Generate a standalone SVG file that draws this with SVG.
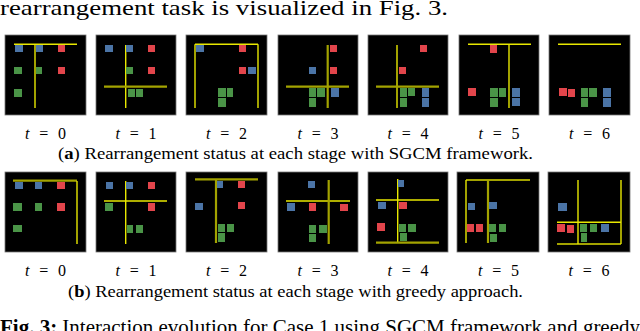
<svg xmlns="http://www.w3.org/2000/svg" width="640" height="331" viewBox="0 0 640 331">
<style>
.p{fill:#000;stroke:#777;stroke-width:0.8}
.y{stroke:#e8e800;stroke-width:1.4;fill:none}
.o{stroke:#a3a300;stroke-width:2.2;fill:none}
.b{fill:#4b74a6}
.r{fill:#e2454b}
.g{fill:#4a9447}
.t{font-family:"Liberation Serif",serif;font-size:16px;fill:#000}
.c{font-family:"Liberation Serif",serif;font-size:17px;fill:#000}
.h{font-family:"Liberation Serif",serif;font-size:22px;fill:#000}
</style>
<rect width="640" height="331" fill="#fff"/>
<text class="h" x="0" y="15" textLength="448" lengthAdjust="spacingAndGlyphs">rearrangement task is visualized in Fig. 3.</text>

<!-- Row a -->
<g id="a0">
<rect class="p" x="5" y="35" width="81" height="80"/>
<line class="y" x1="14" y1="44.3" x2="77" y2="44.3"/><line class="y" x1="35" y1="44.3" x2="35" y2="108"/>
<rect class="b" x="15" y="45" width="8" height="7"/><rect class="b" x="36" y="45" width="7" height="7"/><rect class="r" x="58" y="45" width="7" height="7"/>
<rect class="g" x="14" y="67" width="8" height="7"/><rect class="g" x="36" y="67" width="6" height="7"/><rect class="r" x="58" y="67" width="7" height="7"/>
<rect class="g" x="14" y="89" width="8" height="8"/>
</g>
<g id="a1">
<rect class="p" x="96" y="35" width="80" height="80"/>
<line class="y" x1="125.7" y1="45" x2="125.7" y2="108"/><line class="o" x1="104" y1="86.7" x2="167" y2="86.7"/>
<rect class="b" x="105" y="45" width="8" height="7"/><rect class="b" x="126" y="45" width="7" height="7"/><rect class="r" x="148" y="45" width="7" height="7"/>
<rect class="g" x="126" y="67" width="7" height="7"/><rect class="r" x="148" y="67" width="7" height="7"/>
<rect class="g" x="128" y="89" width="7" height="8"/><rect class="g" x="136" y="89" width="7" height="8"/>
</g>
<g id="a2">
<rect class="p" x="186" y="35" width="81" height="80"/>
<line class="y" x1="195" y1="44.3" x2="258" y2="44.3"/><line class="y" x1="195" y1="44.3" x2="195" y2="108"/><line class="y" x1="258" y1="44.3" x2="258" y2="108"/>
<rect class="b" x="196" y="45" width="8" height="7"/><rect class="r" x="239" y="45" width="7" height="7"/>
<rect class="r" x="239" y="67" width="7" height="7"/><rect class="b" x="248" y="67" width="8" height="7"/>
<rect class="g" x="218" y="88" width="8" height="9"/><rect class="g" x="227" y="88" width="6" height="9"/><rect class="g" x="218" y="98" width="8" height="9"/>
</g>
<g id="a3">
<rect class="p" x="278" y="35" width="80" height="80"/>
<line class="o" x1="327.7" y1="45" x2="327.7" y2="108"/><line class="o" x1="286" y1="86.7" x2="349" y2="86.7"/>
<rect class="r" x="330" y="45" width="7" height="7"/><rect class="b" x="309" y="67" width="7" height="7"/><rect class="r" x="330" y="67" width="7" height="7"/>
<rect class="g" x="309" y="88" width="7" height="9"/><rect class="g" x="317" y="88" width="8" height="9"/><rect class="b" x="331" y="88" width="8" height="9"/>
<rect class="g" x="309" y="98" width="7" height="9"/>
</g>
<g id="a4">
<rect class="p" x="368" y="35" width="80" height="80"/>
<line class="y" x1="397" y1="45" x2="397" y2="108"/><line class="o" x1="376" y1="86.7" x2="439" y2="86.7"/>
<rect class="r" x="420" y="45" width="7" height="7"/><rect class="r" x="399" y="67" width="7" height="7"/>
<rect class="g" x="400" y="88" width="7" height="9"/><rect class="g" x="408" y="88" width="7" height="8"/><rect class="g" x="400" y="98" width="7" height="9"/>
<rect class="b" x="422" y="88" width="7" height="9"/><rect class="b" x="422" y="98" width="7" height="9"/>
</g>
<g id="a5">
<rect class="p" x="459" y="35" width="80" height="80"/>
<line class="y" x1="468" y1="44.3" x2="531" y2="44.3"/><line class="y" x1="509" y1="44.3" x2="509" y2="108"/>
<rect class="r" x="490" y="45" width="7" height="8"/><rect class="r" x="468" y="88" width="8" height="8"/>
<rect class="g" x="490" y="88" width="8" height="9"/><rect class="g" x="499" y="88" width="7" height="9"/><rect class="g" x="490" y="98" width="8" height="9"/>
<rect class="b" x="512" y="88" width="8" height="9"/><rect class="b" x="512" y="98" width="8" height="8"/>
</g>
<g id="a6">
<rect class="p" x="549" y="35" width="81" height="80"/>
<line class="y" x1="558" y1="44.3" x2="621" y2="44.3"/>
<rect class="r" x="559" y="88" width="8" height="8"/><rect class="r" x="568" y="89" width="7" height="8"/>
<rect class="g" x="581" y="88" width="7" height="9"/><rect class="g" x="589" y="88" width="8" height="9"/><rect class="g" x="581" y="98" width="7" height="9"/>
<rect class="b" x="603" y="88" width="8" height="9"/><rect class="b" x="603" y="98" width="8" height="9"/>
</g>

<g id="labels-a">
<text class="t" x="25" y="139" textLength="41" lengthAdjust="spacing"><tspan font-style="italic">t</tspan> = 0</text>
<text class="t" x="115.5" y="139" textLength="41" lengthAdjust="spacing"><tspan font-style="italic">t</tspan> = 1</text>
<text class="t" x="206" y="139" textLength="41" lengthAdjust="spacing"><tspan font-style="italic">t</tspan> = 2</text>
<text class="t" x="297.5" y="139" textLength="41" lengthAdjust="spacing"><tspan font-style="italic">t</tspan> = 3</text>
<text class="t" x="387.5" y="139" textLength="41" lengthAdjust="spacing"><tspan font-style="italic">t</tspan> = 4</text>
<text class="t" x="478.5" y="139" textLength="41" lengthAdjust="spacing"><tspan font-style="italic">t</tspan> = 5</text>
<text class="t" x="569" y="139" textLength="41" lengthAdjust="spacing"><tspan font-style="italic">t</tspan> = 6</text>
<text class="c" x="58" y="158.7" textLength="475" lengthAdjust="spacingAndGlyphs">(<tspan font-weight="bold">a</tspan>) Rearrangement status at each stage with SGCM framework.</text>
</g>

<!-- Row b -->
<g id="b0">
<rect class="p" x="5" y="172" width="81" height="80"/>
<line class="o" x1="13" y1="180.7" x2="77" y2="180.7"/><line class="y" x1="77" y1="181" x2="77" y2="244"/>
<rect class="b" x="15" y="182" width="8" height="7"/><rect class="b" x="35" y="182" width="7" height="7"/><rect class="r" x="57" y="182" width="8" height="7"/>
<rect class="g" x="13" y="203" width="9" height="8"/><rect class="g" x="35" y="203" width="7" height="8"/><rect class="r" x="57" y="203" width="8" height="8"/>
<rect class="g" x="13" y="225" width="9" height="7"/>
</g>
<g id="b1">
<rect class="p" x="96" y="172" width="80" height="80"/>
<line class="y" x1="125.7" y1="181" x2="125.7" y2="244"/><line class="y" x1="104" y1="201" x2="167" y2="201"/>
<rect class="b" x="106" y="182" width="7" height="7"/><rect class="b" x="126" y="182" width="7" height="7"/><rect class="r" x="148" y="182" width="7" height="7"/>
<rect class="g" x="105" y="203" width="8" height="8"/><rect class="r" x="148" y="203" width="7" height="8"/>
<rect class="g" x="127" y="225" width="6" height="8"/><rect class="g" x="136" y="225" width="7" height="8"/>
</g>
<g id="b2">
<rect class="p" x="186" y="172" width="81" height="80"/>
<line class="o" x1="195" y1="179.3" x2="258" y2="179.3"/><line class="o" x1="216" y1="180" x2="216" y2="243"/>
<rect class="b" x="217" y="181" width="6" height="7"/><rect class="r" x="238" y="181" width="7" height="7"/>
<rect class="b" x="195" y="203" width="8" height="7"/><rect class="r" x="238" y="202" width="7" height="7"/>
<rect class="g" x="218" y="224" width="7" height="8"/><rect class="g" x="227" y="224" width="7" height="8"/><rect class="g" x="218" y="233" width="7" height="9"/>
</g>
<g id="b3">
<rect class="p" x="278" y="172" width="80" height="80"/>
<line class="y" x1="286" y1="201" x2="350" y2="201"/><line class="o" x1="328.7" y1="180" x2="328.7" y2="244"/>
<rect class="b" x="308" y="181" width="7" height="7"/>
<rect class="b" x="287" y="203" width="8" height="8"/><rect class="r" x="309" y="203" width="7" height="8"/><rect class="r" x="340" y="204" width="8" height="7"/>
<rect class="g" x="309" y="225" width="7" height="8"/><rect class="g" x="319" y="225" width="8" height="8"/><rect class="g" x="309" y="234" width="7" height="8"/>
</g>
<g id="b4">
<rect class="p" x="368" y="172" width="80" height="80"/>
<line class="y" x1="376" y1="200" x2="439" y2="200"/><line class="y" x1="397.7" y1="179" x2="397.7" y2="243"/><line class="o" x1="376" y1="242.7" x2="439" y2="242.7"/>
<rect class="b" x="398" y="180" width="6" height="7"/>
<rect class="b" x="378" y="202" width="8" height="7"/><rect class="r" x="399" y="202" width="8" height="7"/>
<rect class="r" x="377" y="223" width="8" height="8"/>
<rect class="g" x="399" y="224" width="7" height="8"/><rect class="g" x="408" y="224" width="8" height="8"/><rect class="g" x="400" y="233" width="7" height="8"/>
</g>
<g id="b5">
<rect class="p" x="457" y="172" width="82" height="80"/>
<line class="o" x1="466" y1="180" x2="530" y2="180"/><line class="y" x1="466" y1="180" x2="466" y2="243"/><line class="o" x1="488" y1="180" x2="488" y2="243"/>
<rect class="b" x="468" y="203" width="7" height="7"/><rect class="b" x="489" y="202" width="8" height="7"/>
<rect class="r" x="467" y="224" width="7" height="8"/><rect class="r" x="476" y="224" width="7" height="8"/>
<rect class="g" x="489" y="224" width="7" height="8"/><rect class="g" x="499" y="224" width="7" height="8"/><rect class="g" x="490" y="234" width="7" height="8"/>
</g>
<g id="b6">
<rect class="p" x="548" y="172" width="82" height="80"/>
<line class="y" x1="557" y1="222.3" x2="621" y2="222.3"/><line class="o" x1="557" y1="244" x2="621" y2="244"/>
<line class="y" x1="578" y1="180" x2="578" y2="244"/><line class="y" x1="621" y1="180" x2="621" y2="244"/>
<rect class="b" x="558" y="203" width="9" height="8"/>
<rect class="r" x="557" y="224" width="8" height="8"/><rect class="r" x="567" y="225" width="7" height="8"/>
<rect class="g" x="580" y="224" width="7" height="8"/><rect class="g" x="590" y="224" width="7" height="8"/><rect class="g" x="581" y="233" width="6" height="9"/>
<rect class="b" x="601" y="224" width="8" height="8"/>
</g>

<g id="labels-b">
<text class="t" x="25" y="276" textLength="41" lengthAdjust="spacing"><tspan font-style="italic">t</tspan> = 0</text>
<text class="t" x="115.5" y="276" textLength="41" lengthAdjust="spacing"><tspan font-style="italic">t</tspan> = 1</text>
<text class="t" x="206" y="276" textLength="41" lengthAdjust="spacing"><tspan font-style="italic">t</tspan> = 2</text>
<text class="t" x="297.5" y="276" textLength="41" lengthAdjust="spacing"><tspan font-style="italic">t</tspan> = 3</text>
<text class="t" x="387.5" y="276" textLength="41" lengthAdjust="spacing"><tspan font-style="italic">t</tspan> = 4</text>
<text class="t" x="478" y="276" textLength="41" lengthAdjust="spacing"><tspan font-style="italic">t</tspan> = 5</text>
<text class="t" x="568.5" y="276" textLength="41" lengthAdjust="spacing"><tspan font-style="italic">t</tspan> = 6</text>
<text class="c" x="68" y="297" textLength="455" lengthAdjust="spacingAndGlyphs">(<tspan font-weight="bold">b</tspan>) Rearrangement status at each stage with greedy approach.</text>
</g>
<text class="h" x="0" y="334" font-size="20" textLength="640" lengthAdjust="spacingAndGlyphs"><tspan font-weight="bold">Fig. 3:</tspan> Interaction evolution for Case 1 using SGCM framework and greedy</text>
</svg>
